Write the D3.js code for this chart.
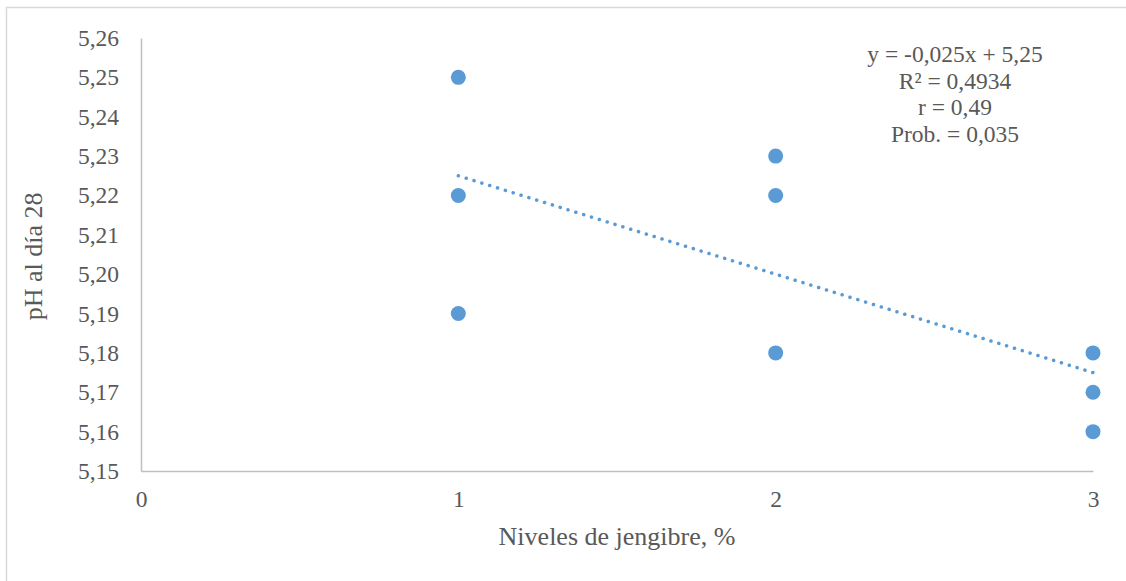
<!DOCTYPE html>
<html>
<head>
<meta charset="utf-8">
<script src="https://cdn.jsdelivr.net/npm/d3@7"></script>
<style>
  html, body { margin: 0; padding: 0; background: #fff; }
  svg { display: block; }
  svg text { font-family: "Liberation Serif", "Times New Roman", "DejaVu Serif", serif !important; fill: #595959; }
</style>
</head>
<body>
<svg id="chart" width="1126" height="581"></svg>
<script>
// Data
const xValues = [1, 1, 1, 2, 2, 2, 3, 3, 3];
const yValues = [5.25, 5.22, 5.19, 5.23, 5.22, 5.18, 5.18, 5.17, 5.16];
const xTicks = [0, 1, 2, 3];
const yTicks = [5.15, 5.16, 5.17, 5.18, 5.19, 5.20, 5.21, 5.22, 5.23, 5.24, 5.25, 5.26];
const trendSlope = -0.025;
const trendIntercept = 5.25;
const trendRange = [1, 3];
const annotationLines = ["y = -0,025x + 5,25", "R² = 0,4934", "r = 0,49", "Prob. = 0,035"];
const xTitle = "Niveles de jengibre, %";
const yTitle = "pH al día 28";

const svg = d3.select("#chart");
const fmt = v => d3.format(".2f")(v).replace(".", ",");
const FONT = '"Liberation Serif", "Times New Roman", serif';

// frame
svg.append("rect")
  .attr("x", 6.5).attr("y", 7.5).attr("width", 1140).attr("height", 600)
  .attr("fill", "#fff").attr("stroke", "#d9d9d9").attr("stroke-width", 1.5);

const x = d3.scaleLinear().domain([0, 3]).range([141, 1093]);
const y = d3.scaleLinear().domain([5.15, 5.26]).range([471, 38]);

// axes
const yAxis = svg.append("g").attr("transform", `translate(${x(0)},0)`)
  .call(d3.axisLeft(y).tickValues(yTicks).tickFormat(fmt).tickSize(0).tickPadding(22));
yAxis.attr("font-family", FONT).attr("font-size", 23.5);
yAxis.select(".domain").attr("stroke", "#bfbfbf").attr("stroke-width", 1.5);
yAxis.selectAll("text").attr("fill", "#595959");

const xAxis = svg.append("g").attr("transform", `translate(0,${y(5.15)})`)
  .call(d3.axisBottom(x).tickValues(xTicks).tickFormat(d3.format("d")).tickSize(0).tickPadding(19));
xAxis.attr("font-family", FONT).attr("font-size", 23.5);
xAxis.select(".domain").attr("stroke", "#bfbfbf").attr("stroke-width", 1.5);
xAxis.selectAll("text").attr("fill", "#595959");

// trendline
svg.append("line")
  .attr("x1", x(trendRange[0])).attr("y1", y(trendSlope * trendRange[0] + trendIntercept))
  .attr("x2", x(trendRange[1])).attr("y2", y(trendSlope * trendRange[1] + trendIntercept))
  .attr("stroke", "#5b9bd5").attr("stroke-width", 3.5)
  .attr("stroke-linecap", "round").attr("stroke-dasharray", "0.1 8.1");

// points
svg.append("g").selectAll("circle")
  .data(xValues.map((d, i) => [d, yValues[i]]))
  .join("circle")
  .attr("cx", d => x(d[0])).attr("cy", d => y(d[1]))
  .attr("r", 7.5).attr("fill", "#5b9bd5");

// annotation
svg.append("g").attr("font-family", FONT).attr("font-size", 23.5)
  .selectAll("text").data(annotationLines).join("text")
  .attr("x", 955).attr("y", (d, i) => 62 + i * 26.7)
  .attr("text-anchor", "middle").text(d => d);

// titles
svg.append("text").attr("x", (x(0) + x(3)) / 2).attr("y", 545)
  .attr("font-family", FONT).attr("font-size", 26)
  .attr("text-anchor", "middle").text(xTitle);
svg.append("text").attr("transform", `translate(42,${y(5.2045)}) rotate(-90)`)
  .attr("font-family", FONT).attr("font-size", 26)
  .attr("text-anchor", "middle").text(yTitle);
</script>
</body>
</html>
